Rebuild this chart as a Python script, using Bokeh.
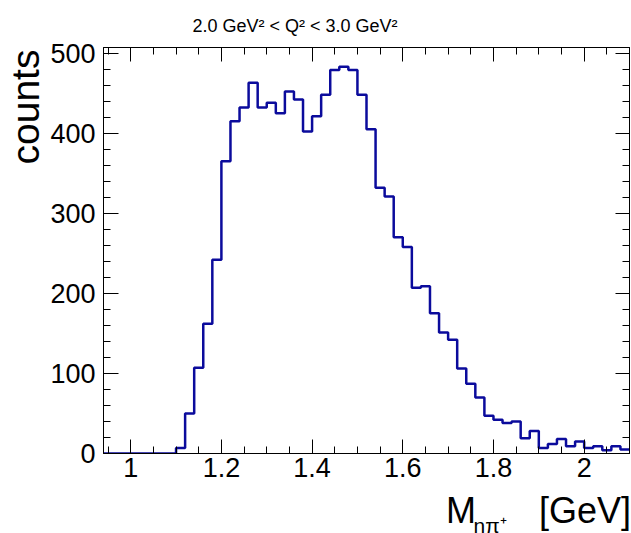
import numpy as np
from bokeh.plotting import figure
from bokeh.models import Range1d, LinearAxis, FixedTicker, Label
from bokeh.embed import file_html
from bokeh.resources import INLINE

# ---- data ----
bin_low = 0.94
bin_width = 0.02
counts = [0, 0, 0, 0, 0, 0, 0, 0,
          7, 50, 107, 162, 242, 365, 415, 432, 463, 432,
          438, 425, 452, 442, 402, 421, 448, 479, 483, 479,
          448, 405, 332, 321, 270, 258, 207, 209, 175, 151,
          142, 106, 87, 70, 47, 42, 38, 40, 19, 28,
          7, 12, 18, 9, 15, 7, 9, 4, 9, 5]
x_major = [1.0, 1.2, 1.4, 1.6, 1.8, 2.0]
x_major_labels = ["1", "1.2", "1.4", "1.6", "1.8", "2"]
x_minor = [0.95, 1.05, 1.1, 1.15, 1.25, 1.3, 1.35, 1.45, 1.5, 1.55, 1.65,
           1.7, 1.75, 1.85, 1.9, 1.95, 2.05, 2.1]
y_major = [0, 100, 200, 300, 400, 500]
y_minor = [20, 40, 60, 80, 120, 140, 160, 180, 220, 240, 260, 280,
           320, 340, 360, 380, 420, 440, 460, 480]
title_text = "2.0 GeV\u00b2 < Q\u00b2 < 3.0 GeV\u00b2"
y_title = "counts"
x_title_main = "M" + "\u00a0" * 6 + "\u200a[GeV]"
x_title_sub = "n\u03c0\u207a"

n = len(counts)
edges = np.round(bin_low + bin_width * np.arange(n + 1), 4)
step_y = counts + [counts[-1]]

FONT = "Liberation Sans"
LINE = "#0b0b9c"

p = figure(width=631, height=533, output_backend="svg", toolbar_location=None,
           x_range=Range1d(0.94, 2.10), y_range=Range1d(0, 507),
           x_axis_type=None, y_axis_type=None,
           min_border_left=103, min_border_right=2,
           min_border_top=47, min_border_bottom=80)
p.background_fill_color = "white"
p.border_fill_color = "white"
p.outline_line_color = "black"
p.outline_line_width = 1
p.grid.visible = False

xt = FixedTicker(ticks=x_major, minor_ticks=x_minor)
yt = FixedTicker(ticks=y_major, minor_ticks=y_minor)


def style(ax, show_labels, size, standoff):
    ax.axis_line_color = "black"
    ax.axis_line_width = 1
    ax.major_tick_line_color = "black"
    ax.minor_tick_line_color = "black"
    ax.major_tick_in = 14
    ax.major_tick_out = 0
    ax.minor_tick_in = 7
    ax.minor_tick_out = 0
    ax.major_label_standoff = standoff
    ax.major_label_text_font = FONT
    ax.major_label_text_color = "black"
    ax.major_label_text_font_size = size if show_labels else "0px"
    if not show_labels:
        ax.major_label_text_alpha = 0


xb = LinearAxis(ticker=xt, major_label_overrides=dict(zip(x_major, x_major_labels)))
style(xb, True, "27px", 4)
p.add_layout(xb, "below")
xa = LinearAxis(ticker=xt)
style(xa, False, "0px", 0)
p.add_layout(xa, "above")
yl = LinearAxis(ticker=yt)
style(yl, True, "27px", 8)
yl.major_tick_in = 15
p.add_layout(yl, "left")
yr = LinearAxis(ticker=yt)
style(yr, False, "0px", 0)
p.add_layout(yr, "right")

p.step(x=edges, y=step_y, mode="after", line_color=LINE, line_width=2.5)


def lab(text, x, y, size, side, align="left", angle=0.0):
    p.add_layout(Label(x=x, y=y, x_units="screen", y_units="screen", text=text,
                       text_font=FONT, text_font_size=size, text_color="black",
                       text_align=align, text_baseline="alphabetic", angle=angle),
                 side)


lab(title_text, 89, 21.5, "18px", "above")
lab(x_title_sub, 370, -498.4, "21px", "above")
lab(y_title, 21, 289, "39px", "left", angle=np.pi / 2)
lab(x_title_main, 342.5, 10, "36px", "below")

open("out.html", "w").write(file_html(p, INLINE))
